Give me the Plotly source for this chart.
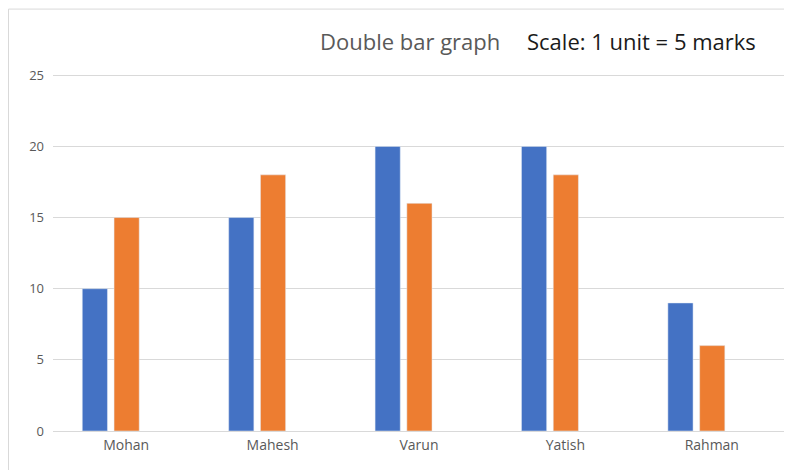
import plotly.graph_objects as go

categories = ["Mohan", "Mahesh", "Varun", "Yatish", "Rahman"]
series_blue = [10, 15, 20, 20, 9]
series_orange = [15, 18, 16, 18, 6]
y_ticks = [0, 5, 10, 15, 20, 25]

fig = go.Figure()
fig.add_trace(go.Bar(x=categories, y=series_blue, marker_color="#4472C4",
                     offset=-0.30, width=0.172, name="Series 1"))
fig.add_trace(go.Bar(x=categories, y=series_orange, marker_color="#ED7D31",
                     offset=-0.083, width=0.172, name="Series 2"))

fig.update_layout(
    width=792, height=470,
    margin=dict(l=45, r=15, t=63, b=47),
    paper_bgcolor="white", plot_bgcolor="white",
    barmode="overlay",
    showlegend=False,
    font=dict(family="Open Sans, sans-serif", color="#595959"),
    xaxis=dict(showgrid=False, showline=False, ticks="",
               tickfont=dict(size=14, color="#595959"), ticklabelstandoff=4),
    yaxis=dict(range=[0, 25.3], tickvals=y_ticks, showgrid=True,
               gridcolor="#d9d9d9", gridwidth=1, zeroline=True,
               zerolinecolor="#d9d9d9", zerolinewidth=1, showline=False,
               tickfont=dict(size=13, color="#595959"), ticklabelstandoff=8),
    annotations=[
        dict(text="Double bar graph", xref="paper", yref="paper",
             x=0.362, y=1.083, xanchor="left", yanchor="middle",
             showarrow=False, font=dict(size=22, color="#595959")),
        dict(text="Scale: 1 unit = 5 marks", xref="paper", yref="paper",
             x=0.645, y=1.083, xanchor="left", yanchor="middle",
             showarrow=False, font=dict(size=22, color="#1a1a1a")),
    ],
    shapes=[
        dict(type="line", xref="paper", yref="paper", x0=-0.0608, x1=-0.0608,
             y0=-0.2, y1=1.172, line=dict(color="#d9d9d9", width=1)),
        dict(type="line", xref="paper", yref="paper", x0=-0.0608, x1=1.05,
             y0=1.172, y1=1.172, line=dict(color="#d9d9d9", width=1)),
    ],
)

fig.write_html("out.html")
